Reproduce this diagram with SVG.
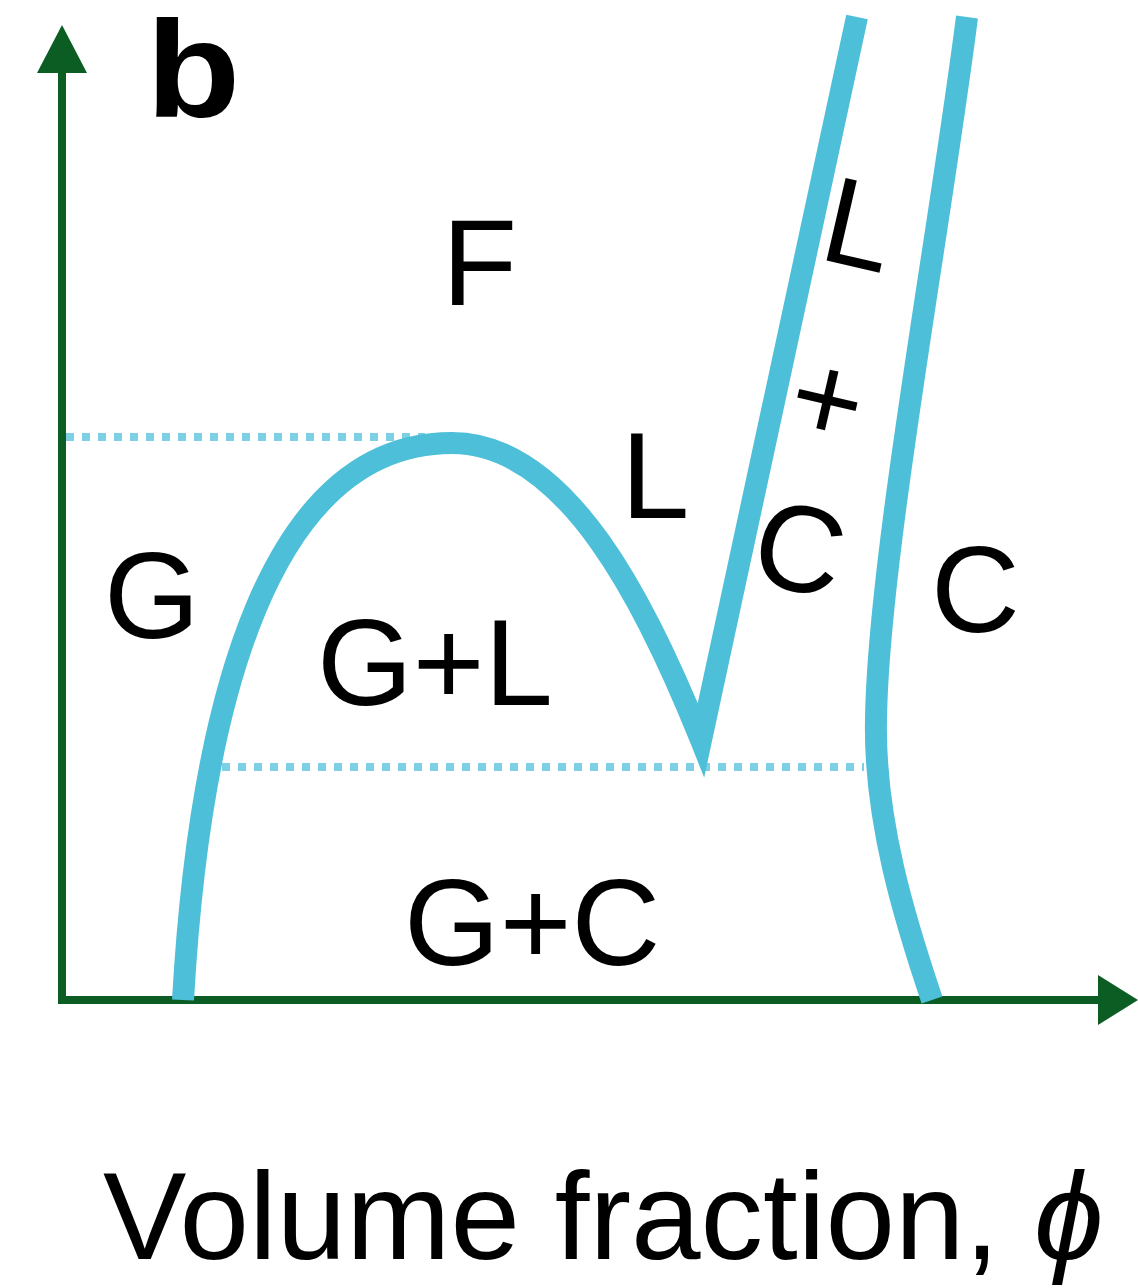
<svg xmlns="http://www.w3.org/2000/svg" width="1138" height="1288" viewBox="0 0 1138 1288">
  <style>
    .axis { stroke: #0b5d24; stroke-width: 8; fill: none; }
    .head { fill: #0b5d24; }
    .curve { stroke: #4ebfd8; stroke-width: 22; fill: none; stroke-linejoin: miter; stroke-miterlimit: 10; stroke-linecap: butt; }
    .dot { stroke: #5cc4dc; stroke-width: 8; fill: none; stroke-dasharray: 8 8; opacity: 0.8; }
    .lbl { font-family: "Liberation Sans", Arial, sans-serif; font-size: 123px; fill: #000; }
  </style>
  <rect width="1138" height="1288" fill="#ffffff"/>

  <g id="axes">
    <line class="axis" x1="62" y1="1004" x2="62" y2="66"/>
    <polygon class="head" points="62,25 37,73 87,73"/>
    <line class="axis" x1="58" y1="1000" x2="1100" y2="1000"/>
    <polygon class="head" points="1138,1000 1098,975 1098,1025"/>
  </g>

  <g id="tie-lines">
    <line class="dot" x1="66" y1="437" x2="425" y2="437"/>
    <line class="dot" x1="222" y1="767" x2="864" y2="767"/>
  </g>

  <g id="curves">
    <path id="binodal" class="curve" d="M183,1000 C200,700 270,443 452,443 C568,443 648,608 701,740 L857,17"/>
    <path id="solid-boundary" class="curve" d="M967,17 C940,230 878,560 876,720 C874,820 905,920 932,1000"/>
  </g>

  <g id="panel-label">
    <text transform="translate(146,117) scale(1.12,1)" font-family="Liberation Sans, Arial, sans-serif" font-size="138" font-weight="bold">b</text>
  </g>

  <g id="region-F"><text class="lbl" x="442" y="305">F</text></g>
  <g id="region-G"><text class="lbl" x="104" y="638">G</text></g>
  <g id="region-GL"><text class="lbl" x="317" y="705">G+L</text></g>
  <g id="region-L"><text class="lbl" x="621" y="518">L</text></g>
  <g id="region-GC"><text class="lbl" x="404" y="965">G+C</text></g>
  <g id="region-C"><text class="lbl" x="931" y="632">C</text></g>
  <g id="region-LC">
    <text class="lbl" x="860" y="267" text-anchor="middle" transform="rotate(13 860 223)">L</text>
    <text class="lbl" x="828" y="441" text-anchor="middle" transform="rotate(13 828 398)">+</text>
    <text class="lbl" x="800" y="591" text-anchor="middle" transform="rotate(13 800 547)">C</text>
  </g>

  <g id="x-axis-label">
    <text class="lbl" x="103" y="1259" style="font-size:125px">Volume fraction, <tspan font-style="italic">ϕ</tspan></text>
  </g>
</svg>
